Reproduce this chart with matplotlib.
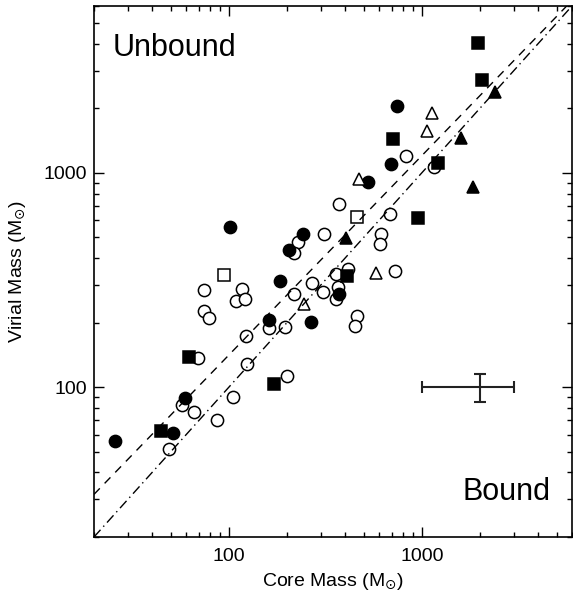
import numpy as np
import matplotlib
matplotlib.use('Agg')
import matplotlib.pyplot as plt

plt.rcParams['font.family'] = ['Liberation Sans', 'DejaVu Sans']

# core mass, virial mass (Msun), one pair of lists per symbol
fc_core = [25.7, 51.5, 59.5, 101.6, 242.5, 205.5, 184, 162, 266.5, 371, 745, 694, 525]
fc_vir = [56.1, 61.1, 89.2, 559, 519, 438, 312, 206, 201, 271, 2056, 1101, 908]

oc_core = [48.9, 57.2, 66.2, 86.5, 105, 68.8, 124, 123, 201, 74.2, 117.5, 108.6, 121,
           74.2, 79.3, 227.6, 218, 371, 311, 269, 218, 307, 361, 414, 368, 359, 162,
           196, 460, 452, 825, 1161, 682, 614, 607, 724]
oc_vir = [51.5, 82.4, 76.8, 70.5, 89.6, 137, 128, 173, 113, 284, 288, 252, 257,
          226, 210, 474, 423, 718, 517, 305, 271, 277, 339, 354, 294, 257, 189,
          191, 215, 193, 1200, 1070, 642, 520, 466, 347]

fs_core = [44.6, 62.1, 172, 409, 710, 1219, 953, 1953, 2055]
fs_vir = [62.6, 138, 104, 329, 1439, 1117, 613, 4037, 2708]

os_core = [94.6, 464]
os_vir = [332, 620]

ft_core = [404, 1591, 1842, 2404]
ft_vir = [497, 1460, 855, 2388]

ot_core = [246, 579, 473, 1130, 1065]
ot_vir = [245, 342, 935, 1906, 1573]

# typical error bar
err_x, err_y = 2000, 100
err_xlo, err_xhi = 1000, 1000
err_ylo, err_yhi = 15, 15

# dashed fit line: Mvir = a * Mcore**b
fit_a, fit_b = 1.95, 0.93

fig = plt.figure(figsize=(5.73, 5.97), dpi=100)
ax = fig.add_axes([94/573, 60/597, 478/573, 531/597])

ms = 8.8
mew = 1.1
ax.plot(oc_core, oc_vir, 'o', ms=ms, mfc='white', mec='black', mew=mew, ls='none')
ax.plot(fc_core, fc_vir, 'o', ms=ms, mfc='black', mec='black', mew=mew, ls='none')
ax.plot(os_core, os_vir, 's', ms=ms, mfc='white', mec='black', mew=mew, ls='none')
ax.plot(fs_core, fs_vir, 's', ms=ms, mfc='black', mec='black', mew=mew, ls='none')
ax.plot(ot_core, ot_vir, '^', ms=ms, mfc='white', mec='black', mew=mew, ls='none')
ax.plot(ft_core, ft_vir, '^', ms=ms, mfc='black', mec='black', mew=mew, ls='none')

xx = np.array([20, 6000])
ax.plot(xx, xx, color='black', lw=1, ls=(0, (7, 3, 1, 3)))
ax.plot(xx, fit_a * xx ** fit_b, color='black', lw=1, ls=(0, (6, 5)))

ax.errorbar([err_x], [err_y], xerr=[[err_xlo], [err_xhi]], yerr=[[err_ylo], [err_yhi]],
            fmt='none', ecolor='#222222', elinewidth=1.5, capsize=4.5, capthick=1.5)

ax.set_xscale('log')
ax.set_yscale('log')
ax.set_xlim(20, 6000)
ax.set_ylim(20, 6000)
ax.set_xticks([100, 1000])
ax.set_xticklabels(['100', '1000'])
ax.set_yticks([100, 1000])
ax.set_yticklabels(['100', '1000'])

ax.tick_params(which='both', direction='in', top=True, right=True, labelsize=14, width=1)
ax.tick_params(which='major', length=7)
ax.tick_params(which='minor', length=3.5)
ax.tick_params(axis='x', pad=8)
ax.tick_params(axis='y', pad=5)
for s in ax.spines.values():
    s.set_linewidth(1.2)

ax.set_xlabel(r'Core Mass (M$_{\odot}$)', fontsize=14, labelpad=4)
ax.set_ylabel(r'Virial Mass (M$_{\odot}$)', fontsize=14)
ax.yaxis.set_label_coords(-0.138, 0.5)

ax.text(0.040, 0.906, 'Unbound', transform=ax.transAxes, fontsize=22, va='baseline', ha='left')
ax.text(0.954, 0.070, 'Bound', transform=ax.transAxes, fontsize=22, va='baseline', ha='right')

fig.savefig('out.png', dpi=100)
